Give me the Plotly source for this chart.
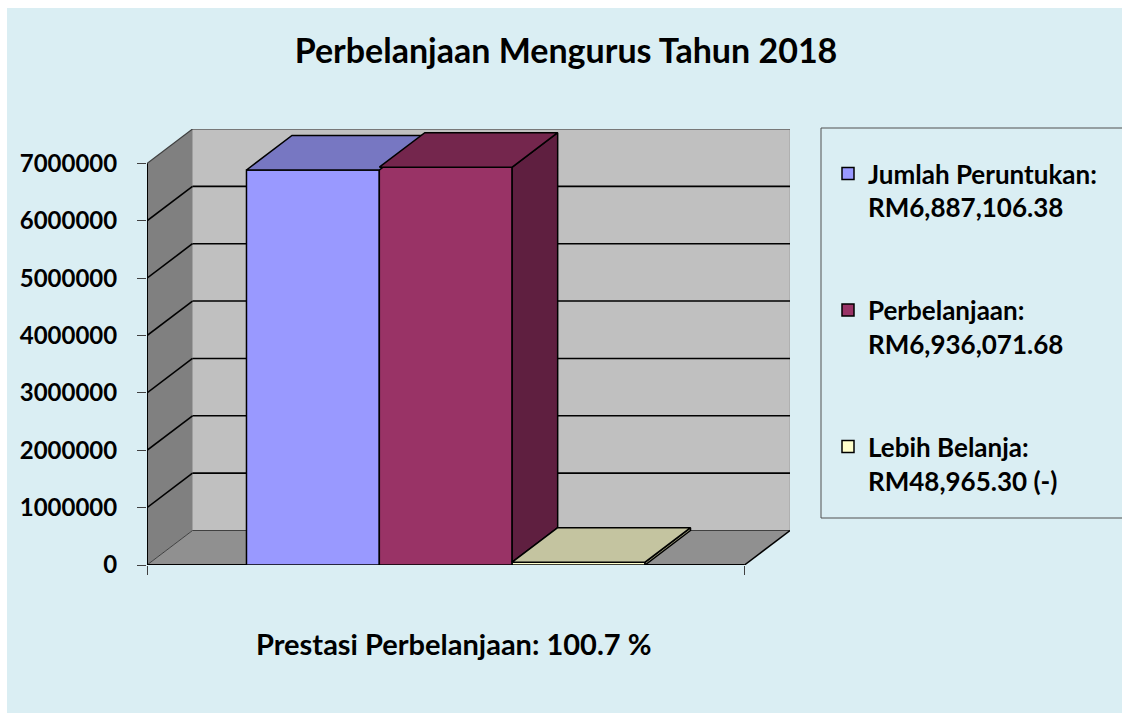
import plotly.graph_objects as go

# ---------------- data ----------------
series_names = ["Jumlah Peruntukan", "Perbelanjaan", "Lebih Belanja"]
series_amount_labels = ["RM6,887,106.38", "RM6,936,071.68", "RM48,965.30 (-)"]
series_values = [6887106.38, 6936071.68, 48965.30]
y_tick_values = [0, 1000000, 2000000, 3000000, 4000000, 5000000, 6000000, 7000000]
y_tick_labels = ["0", "1000000", "2000000", "3000000", "4000000", "5000000", "6000000", "7000000"]
chart_title = "Perbelanjaan Mengurus Tahun 2018"
footnote_text = "Prestasi Perbelanjaan: 100.7 %"

# ---------------- styles ----------------
front_colors = ["#9999FF", "#993366", "#FFFFCC"]
top_colors = ["#7777C2", "#74264D", "#C4C4A0"]
side_colors = ["#5C5C99", "#5F1F40", "#9A9A7A"]
BG = "#DAEEF3"
FONT = "Lato"

W, H = 1122, 713
L = 147
R = W - 790
T = 129
B = H - 565
plot_w = W - L - R
plot_h = H - T - B

YMAX = y_tick_values[-1]
DEPTH_PX_X, DEPTH_PX_Y = 45.5, 34.5
DX = DEPTH_PX_X / (plot_w - DEPTH_PX_X)          # depth offset in x data units
DY = DEPTH_PX_Y * YMAX / (plot_h - DEPTH_PX_Y)   # depth offset in y data units
BARGAP = 0.333
n = len(series_values)
bar_w = (1 - BARGAP) / n
x_left = [-(1 - BARGAP) / 2 + i * bar_w for i in range(n)]


def px_x(px):
    return (px - L) / plot_w


def px_y(py):
    return (H - B - py) / plot_h


fig = go.Figure()

# front faces: real bar traces
for i in range(n):
    fig.add_trace(go.Bar(
        x=[0], y=[series_values[i]],
        name=f"{series_names[i]}:<br>{series_amount_labels[i]}",
        legendgroup=f"g{i}",
        marker=dict(color=front_colors[i], line=dict(color="black", width=1.5)),
        hoverinfo="skip",
    ))

# 3-D faces (side and top) derived from the bar values
for i in range(n):
    v = series_values[i]
    x0 = x_left[i]
    x1 = x0 + bar_w
    lo = series_values[i + 1] if i + 1 < n else 0
    if lo < v:
        fig.add_trace(go.Scatter(
            x=[x1, x1, x1 + DX, x1 + DX, x1], y=[lo, v, v + DY, lo + DY, lo],
            mode="lines", fill="toself", fillcolor=side_colors[i],
            line=dict(color="black", width=1.5), showlegend=False, hoverinfo="skip"))
    fig.add_trace(go.Scatter(
        x=[x0, x1, x1 + DX, x0 + DX, x0], y=[v, v, v + DY, v + DY, v],
        mode="lines", fill="toself", fillcolor=top_colors[i],
        line=dict(color="black", width=1.5), showlegend=False, hoverinfo="skip"))

shapes = []
# white page strips (left / top)
shapes.append(dict(type="rect", xref="paper", yref="paper", layer="above",
                   x0=px_x(-5), x1=px_x(7), y0=px_y(H + 5), y1=px_y(-5),
                   fillcolor="white", line=dict(width=0)))
shapes.append(dict(type="rect", xref="paper", yref="paper", layer="above",
                   x0=px_x(-5), x1=px_x(W + 5), y0=px_y(8), y1=px_y(-5),
                   fillcolor="white", line=dict(width=0)))
# floor
shapes.append(dict(type="path", xref="x", yref="y", layer="below",
                   path=f"M -0.5,0 L 0.5,0 L {0.5 + DX},{DY} L {-0.5 + DX},{DY} Z",
                   fillcolor="#909090", line=dict(width=0)))
# left wall
shapes.append(dict(type="path", xref="x", yref="y", layer="below",
                   path=f"M -0.5,0 L {-0.5 + DX},{DY} L {-0.5 + DX},{YMAX + DY} L -0.5,{YMAX} Z",
                   fillcolor="#808080", line=dict(width=0)))
# back wall
shapes.append(dict(type="rect", xref="x", yref="y", layer="below",
                   x0=-0.5 + DX, x1=0.5 + DX, y0=DY, y1=YMAX + DY,
                   fillcolor="#C0C0C0", line=dict(color="#A0A0A0", width=1)))
# gridlines on walls
for v in y_tick_values:
    if v == 0:
        col, wd = "#404040", 1
    elif v == YMAX:
        col, wd = "#404040", 1.2
    else:
        col, wd = "black", 1.6
    shapes.append(dict(type="line", xref="x", yref="y", layer="below",
                       x0=-0.5 + DX, x1=0.5 + DX, y0=v + DY, y1=v + DY,
                       line=dict(color=col, width=wd)))
    shapes.append(dict(type="line", xref="x", yref="y", layer="below",
                       x0=-0.5, x1=-0.5 + DX, y0=v, y1=v + DY,
                       line=dict(color=col, width=wd)))
# floor right edge
shapes.append(dict(type="line", xref="x", yref="y", layer="below",
                   x0=0.5, x1=0.5 + DX, y0=0, y1=DY, line=dict(color="black", width=1.5)))
# axis lines
shapes.append(dict(type="line", xref="x", yref="y", layer="below",
                   x0=-0.5, x1=0.5, y0=0, y1=0, line=dict(color="black", width=2)))
shapes.append(dict(type="line", xref="x", yref="y", layer="below",
                   x0=-0.5, x1=-0.5, y0=0, y1=YMAX, line=dict(color="black", width=2)))
# legend frame (right side runs off the page)
shapes.append(dict(type="rect", xref="paper", yref="paper",
                   x0=px_x(821), x1=px_x(W + 60), y0=px_y(518), y1=px_y(128),
                   fillcolor="rgba(0,0,0,0)", line=dict(color="#505050", width=1)))

fig.update_layout(
    width=W, height=H,
    margin=dict(l=L, r=R, t=T, b=B, autoexpand=False),
    paper_bgcolor=BG,
    plot_bgcolor="rgba(0,0,0,0)",
    barmode="group", bargap=BARGAP, bargroupgap=0,
    font=dict(family=FONT, color="black", size=24, weight="bold"),
    title=dict(text=chart_title, xref="container", yref="container",
               x=566 / W, xanchor="center", y=1 - 51 / H, yanchor="middle",
               font=dict(family=FONT, size=34, color="black", weight="bold")),
    xaxis=dict(range=[-0.5, 0.5 + DX], showgrid=False, zeroline=False, showline=False,
               tickvals=[-0.5, 0.5], ticks="outside", ticklen=9, tickwidth=1,
               tickcolor="#404040", showticklabels=False, fixedrange=True),
    yaxis=dict(range=[0, YMAX + DY], showgrid=False, zeroline=False, showline=False,
               tickvals=y_tick_values, ticktext=y_tick_labels,
               ticks="outside", ticklen=9, tickwidth=1, tickcolor="#404040",
               ticklabelstandoff=15,
               tickfont=dict(family=FONT, size=24, color="black", weight="bold"),
               fixedrange=True),
    showlegend=True,
    legend=dict(x=px_x(828), xanchor="left", y=px_y(150), yanchor="top",
                bgcolor="rgba(0,0,0,0)", borderwidth=0,
                traceorder="grouped", tracegroupgap=66, valign="top",
                font=dict(family=FONT, size=26, color="black", weight="bold")),
    shapes=shapes,
    annotations=[dict(text=footnote_text, xref="paper", yref="paper",
                      x=px_x(453), y=px_y(643), xanchor="center", yanchor="middle",
                      showarrow=False,
                      font=dict(family=FONT, size=29, color="black", weight="bold"))],
)

page_script = (
    "document.body.style.margin='0';"
    "document.body.style.overflow='hidden';"
    "document.documentElement.style.overflow='hidden';"
)
fig.write_html("out.html", config={"displayModeBar": False}, post_script=page_script)
